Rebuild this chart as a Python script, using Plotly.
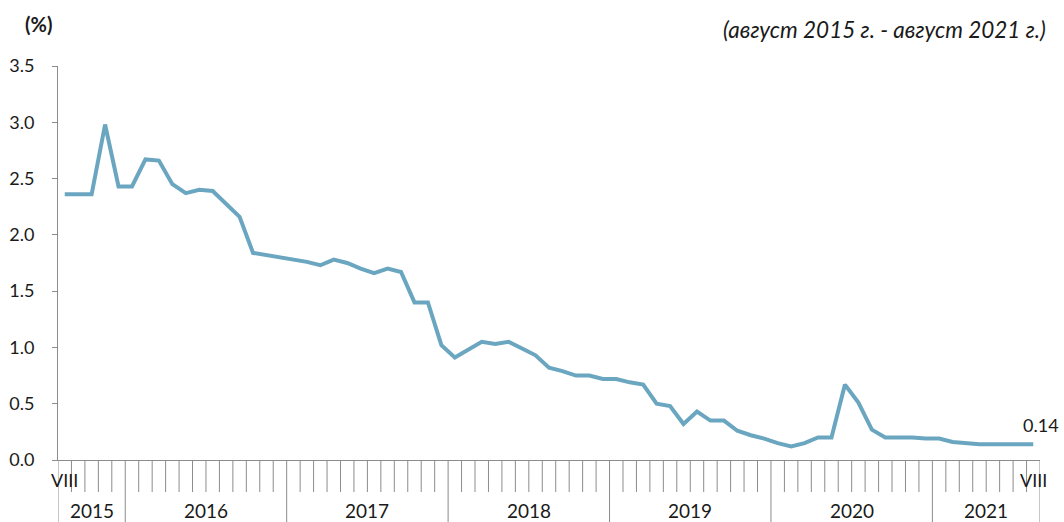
import plotly.graph_objects as go

values = [2.36, 2.36, 2.36, 2.98, 2.43, 2.43, 2.67, 2.66, 2.45, 2.37,
          2.40, 2.39, 2.28, 2.16, 1.84, 1.82, 1.80, 1.78, 1.76, 1.73,
          1.78, 1.75, 1.70, 1.66, 1.70, 1.67, 1.40, 1.40, 1.02, 0.91,
          0.98, 1.05, 1.03, 1.05, 0.99, 0.93, 0.82, 0.79, 0.75, 0.75,
          0.72, 0.72, 0.69, 0.67, 0.50, 0.48, 0.32, 0.43, 0.35, 0.35,
          0.26, 0.22, 0.19, 0.15, 0.12, 0.15, 0.20, 0.20, 0.67, 0.51,
          0.27, 0.20, 0.20, 0.20, 0.19, 0.19, 0.16, 0.15, 0.14, 0.14,
          0.14, 0.14, 0.14]
years = ["2015", "2016", "2017", "2018", "2019", "2020", "2021"]
months_in_year = [5, 12, 12, 12, 12, 12, 8]
y_ticks = [0.0, 0.5, 1.0, 1.5, 2.0, 2.5, 3.0, 3.5]
edge_label = "VIII"
last_label = "0.14"
title_text = "(август 2015 г. - август 2021 г.)"
unit_text = "(%)"

n = len(values)
x = list(range(n))

bounds = [-0.5]
for m in months_in_year:
    bounds.append(bounds[-1] + m)
year_centers = [(bounds[i] + bounds[i + 1]) / 2 for i in range(len(years))]

FONT = "Lato, Carlito, 'Open Sans', sans-serif"
AX = "#8c8c8c"
LINE = "#6ba6c1"
TXT = "#1a1a1a"

W, H = 1064, 522
ml, mr, mt, mb = 58, 24, 66, 62
plot_w = W - ml - mr
plot_h = H - mt - mb


def py(pix_below_axis):
    return -pix_below_axis / plot_h


def to_paper_x(px):
    return (px - ml) / plot_w


def to_paper_y(pix_y):
    return (H - mb - pix_y) / plot_h


fig = go.Figure()
fig.add_trace(go.Scatter(x=x, y=values, mode="lines",
                         line=dict(color=LINE, width=4), hoverinfo="skip"))

shapes = []
for i in range(n + 1):
    xv = i - 0.5
    length = 62 if xv in bounds else 32
    shapes.append(dict(type="line", xref="x", yref="paper", x0=xv, x1=xv,
                       y0=0, y1=py(length), line=dict(color=AX, width=1)))

annotations = []
for yc, yr in zip(year_centers, years):
    annotations.append(dict(x=yc, y=py(50), xref="x", yref="paper", text=yr,
                            showarrow=False, font=dict(family=FONT, size=19, color=TXT),
                            xanchor="center", yanchor="middle"))
for xv in (0, n - 1):
    annotations.append(dict(x=xv, y=py(20), xref="x", yref="paper", text=edge_label,
                            showarrow=False, font=dict(family=FONT, size=18, color=TXT),
                            xanchor="center", yanchor="middle"))
annotations.append(dict(x=n - 1, y=values[-1], xref="x", yref="y", text=last_label,
                        showarrow=False, font=dict(family=FONT, size=18, color=TXT),
                        xanchor="center", yanchor="bottom", xshift=8, yshift=6))
annotations.append(dict(x=to_paper_x(38), y=to_paper_y(24), xref="paper", yref="paper",
                        text="<b>" + unit_text + "</b>",
                        showarrow=False, font=dict(family=FONT, size=20, color=TXT),
                        xanchor="center", yanchor="middle"))
annotations.append(dict(x=to_paper_x(1048), y=to_paper_y(30), xref="paper", yref="paper",
                        text="<i>" + title_text + "</i>",
                        showarrow=False, font=dict(family=FONT, size=22.5, color=TXT),
                        xanchor="right", yanchor="middle"))

fig.update_layout(
    width=W, height=H,
    margin=dict(l=ml, r=mr, t=mt, b=mb, pad=0, autoexpand=False),
    paper_bgcolor="white", plot_bgcolor="white",
    showlegend=False,
    shapes=shapes, annotations=annotations,
    xaxis=dict(range=[-0.5, n - 0.5], showgrid=False, zeroline=False,
               showline=True, linecolor=AX, linewidth=1, automargin=False,
               showticklabels=False, ticks=""),
    yaxis=dict(range=[0, 3.5], tickvals=y_ticks, ticktext=[f"{v:.1f}" for v in y_ticks],
               showgrid=False, zeroline=False, showline=True, linecolor=AX, linewidth=1,
               ticks="outside", ticklen=5, tickcolor=AX, automargin=False,
               ticklabelstandoff=14,
               tickfont=dict(family=FONT, size=18, color=TXT)),
)

fig.write_html("out.html",
               config={"displayModeBar": False, "staticPlot": True},
               post_script="document.body.style.margin='0';document.body.style.overflow='hidden';")
